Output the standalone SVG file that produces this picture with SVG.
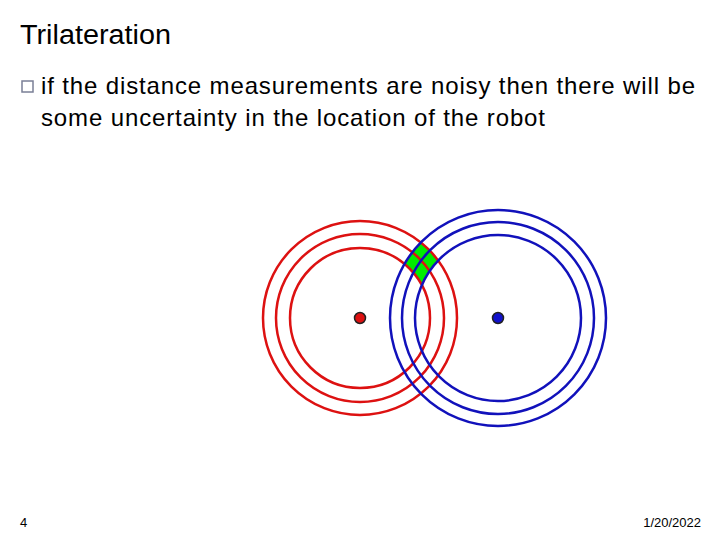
<svg xmlns="http://www.w3.org/2000/svg" width="720" height="540" viewBox="0 0 720 540">
<style>
text{font-family:"Liberation Sans",Arial,sans-serif;fill:#000}
.r{fill:none;stroke:#dd1111;stroke-width:2.5}
.b{fill:none;stroke:#1111bb;stroke-width:2.5}
</style>
<defs>
<clipPath id="redAnn"><path clip-rule="evenodd" d="M263,318 a97,97 0 1,0 194,0 a97,97 0 1,0 -194,0Z M290,318 a70,70 0 1,0 140,0 a70,70 0 1,0 -140,0Z"/></clipPath>
<clipPath id="top"><rect x="0" y="0" width="720" height="300"/></clipPath>
</defs>
<rect width="720" height="540" fill="#fff"/>
<text x="20" y="44" font-size="27" textLength="151" lengthAdjust="spacingAndGlyphs">Trilateration</text>
<rect x="22" y="81" width="11" height="11" fill="none" stroke="#7a7f96" stroke-width="1.5"/>
<text x="41" y="94" font-size="24" textLength="654">if the distance measurements are noisy then there will be</text>
<text x="41" y="126" font-size="24" textLength="504">some uncertainty in the location of the robot</text>
<g id="green" clip-path="url(#top)">
<path clip-path="url(#redAnn)" fill="#00ee00" fill-rule="evenodd" d="M390,318 a108,108 0 1,0 216,0 a108,108 0 1,0 -216,0Z M415,318 a83,83 0 1,0 166,0 a83,83 0 1,0 -166,0Z"/>
</g>
<g id="red">
<circle class="r" cx="360" cy="318" r="97"/>
<circle class="r" cx="360" cy="318" r="84"/>
<circle class="r" cx="360" cy="318" r="70"/>
<circle cx="360" cy="318" r="5.5" fill="#dd1111" stroke="#222" stroke-width="1.5"/>
</g>
<g id="blue">
<circle class="b" cx="498" cy="318" r="108"/>
<circle class="b" cx="498" cy="318" r="96"/>
<circle class="b" cx="498" cy="318" r="83"/>
<circle cx="498" cy="318" r="5.5" fill="#1111cc" stroke="#222" stroke-width="1.5"/>
</g>
<text x="20" y="527" font-size="13">4</text>
<text x="701" y="527" font-size="13" text-anchor="end">1/20/2022</text>
</svg>
